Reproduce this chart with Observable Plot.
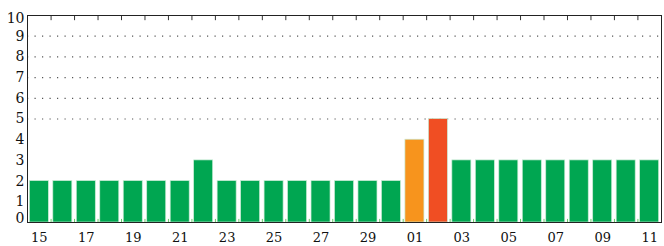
<!DOCTYPE html>
<html>
<head>
<meta charset="utf-8">
<script src="https://cdn.jsdelivr.net/npm/d3@7"></script>
<script src="https://cdn.jsdelivr.net/npm/@observablehq/plot@0.6"></script>
<style>
  html, body { margin: 0; padding: 0; background: #fff; }
</style>
</head>
<body>
<div id="chart"></div>
<script>
const days = ["15","16","17","18","19","20","21","22","23","24","25","26","27","28","29","30",
              "01","02","03","04","05","06","07","08","09","10","11"];
const values = [2,2,2,2,2,2,2,3,2,2,2,2,2,2,2,2, 4,5, 3,3,3,3,3,3,3,3,3];
const barColors = ["#00a651","#00a651","#00a651","#00a651","#00a651","#00a651","#00a651","#00a651",
                   "#00a651","#00a651","#00a651","#00a651","#00a651","#00a651","#00a651","#00a651",
                   "#f7941d","#f04e23",
                   "#00a651","#00a651","#00a651","#00a651","#00a651","#00a651","#00a651","#00a651","#00a651"];
const yTicksMid = [1,2,3,4,5,6,7,8,9];
const gridLevels = [5,6,7,8,9];
const xLabels = days.filter((d, i) => i % 2 === 0);

const data = days.map((d, i) => ({day: d, value: values[i], color: barColors[i]}));

const W = 664, H = 246, ML = 27, MR = 3, MT = 15, MB = 24;
const step = (W - ML - MR) / days.length;

const chart = Plot.plot({
  width: W, height: H,
  marginLeft: ML, marginRight: MR, marginTop: MT, marginBottom: MB,
  style: {fontFamily: "DejaVu Serif, serif", background: "#fff", color: "#111"},
  x: {domain: days, paddingInner: 0.19, paddingOuter: 0.1, round: false, axis: null, label: null},
  y: {domain: [0, 10], axis: null, label: null},
  marks: [
    Plot.ruleY(gridLevels, {stroke: "#555", strokeDasharray: "1.2,6.3", strokeWidth: 1.2}),
    Plot.barY(data, {x: "day", y: "value", fill: "color", stroke: "#c9ecd5", strokeWidth: 0.7}),
    Plot.ruleX(days.slice(1), {x: d => d, y1: 10, y2: 9.75, dx: -step / 2, stroke: "#333"}),
    Plot.ruleX(days.slice(1), {x: d => d, y1: 0, y2: 0.15, dx: -step / 2, stroke: "#6c6"}),
    Plot.axisY({ticks: yTicksMid, tickSize: 0, tickPadding: 3, fontSize: 14, label: null}),
    Plot.axisY({ticks: [10], tickSize: 0, tickPadding: 3, fontSize: 14, dy: 3, label: null}),
    Plot.axisY({ticks: [0], tickSize: 0, tickPadding: 3, fontSize: 14, dy: -4, label: null}),
    Plot.axisX({ticks: xLabels, tickSize: 0, tickPadding: 10, fontSize: 13, label: null}),
    Plot.frame({stroke: "#222"})
  ]
});
document.getElementById("chart").appendChild(chart);
</script>
</body>
</html>
